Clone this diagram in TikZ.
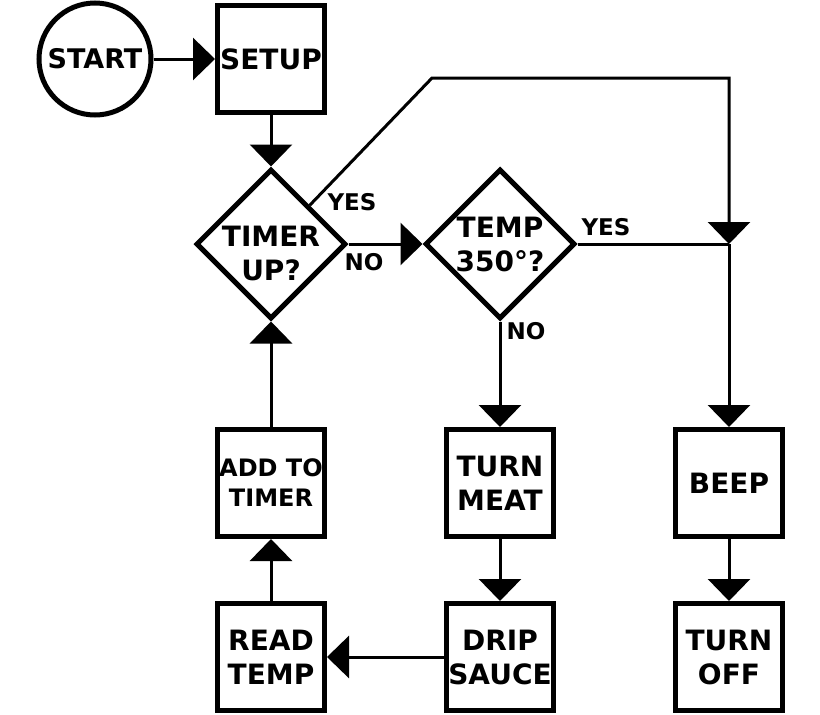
\documentclass[tikz,border=0pt]{standalone}
\usepackage{fontspec}
\setmainfont{DejaVu Sans}
\usetikzlibrary{arrows.meta,shapes.geometric}

\newcommand{\flowfont}{\fontsize{28}{34}\selectfont\bfseries}
\newcommand{\smallflowfont}{\fontsize{24}{30}\selectfont\bfseries}
\newcommand{\answerfont}{\fontsize{23}{28}\selectfont\bfseries}
\newcommand{\startfont}{\fontsize{27}{30}\selectfont\bfseries}

\begin{document}
\begin{tikzpicture}[x=1pt,y=-1pt,
  box/.style={draw,line width=5pt,minimum width=107pt,minimum height=107pt,
    inner sep=0pt,align=center,font=\flowfont},
  circ/.style={circle,draw,line width=5pt,minimum size=112pt,inner sep=0pt,
    font=\startfont},
  decision/.style={diamond,draw,line width=5pt,aspect=1,minimum width=150pt,
    minimum height=150pt,inner sep=0pt},
  dectext/.style={align=center,font=\flowfont,inner sep=0pt},
  answer/.style={font=\answerfont,inner sep=0pt},
  wire/.style={line width=3pt},
  flow/.style={wire,-{Triangle[length=22pt,width=42pt]}}]

\fill[white] (0,0) rectangle (820,715);

% top row
\node[circ] (start) at (95,59) {START};
\node[box] (setup) at (271,59) {SETUP};

% decisions
\node[decision,label={[dectext,yshift=-9pt]center:TIMER\\UP?}] (timer) at (271,244) {};
\node[decision,label={[dectext]center:TEMP\\350°?}] (temp) at (500,244) {};

\node[answer] (timeryes) at (352,202) {YES};
\node[answer] (timerno) at (364,262) {NO};
\node[answer] (tempyes) at (606,227) {YES};
\node[answer] (tempno) at (526,331) {NO};

% actions
\node[box,font=\smallflowfont] (addtimer) at (271,483) {ADD TO\\TIMER};
\node[box] (turnmeat) at (500,483) {TURN\\MEAT};
\node[box] (beep) at (729,483) {BEEP};
\node[box] (readtemp) at (271,657) {READ\\TEMP};
\node[box] (drip) at (500,657) {DRIP\\SAUCE};
\node[box] (turnoff) at (729,657) {TURN\\OFF};

\coordinate (bend) at (432,78);
\coordinate (join) at (beep.north |- temp.east);

% connectors
\draw[flow] (start) -- (setup);
\draw[flow] (setup) -- (timer);
\draw[flow] (timer) -- (temp);
\draw[flow] (timer.north east) -- (bend) -| (join);
\draw[wire] (temp) -- (join);
\draw[flow] (join) -- (beep);
\draw[flow] (temp) -- (turnmeat);
\draw[flow] (turnmeat) -- (drip);
\draw[flow] (beep) -- (turnoff);
\draw[flow] (drip) -- (readtemp);
\draw[flow] (readtemp) -- (addtimer);
\draw[flow] (addtimer) -- (timer);

\end{tikzpicture}
\end{document}
